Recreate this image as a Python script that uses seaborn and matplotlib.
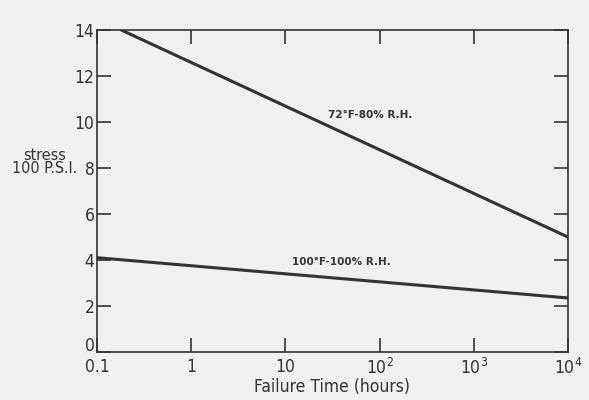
import pandas as pd
import seaborn as sns
import matplotlib.pyplot as plt
import matplotlib.transforms as mtransforms
from matplotlib.ticker import FixedLocator, NullLocator

sns.set_style("ticks")
plt.rcParams['font.family'] = ['DejaVu Sans']
plt.rcParams['font.stretch'] = 'condensed'

# Values (stress in 100 psi vs failure time in hours)
hours_72 = [0.18, 1e4]
stress_72 = [14.0, 5.0]
hours_100 = [0.1, 1e4]
stress_100 = [4.1, 2.35]

x_ticks = [0.1, 1, 10, 100, 1000, 10000]
x_tick_labels = ['0.1', '1', '10', '$10^2$', '$10^3$', '$10^4$']
y_ticks = [0, 2, 4, 6, 8, 10, 12, 14]

data = pd.concat([
    pd.DataFrame({'hours': hours_72, 'stress': stress_72, 'cond': "72°F-80% R.H."}),
    pd.DataFrame({'hours': hours_100, 'stress': stress_100, 'cond': "100°F-100% R.H."}),
])

ink = '#333333'
bg = '#f0f0f0'

fig = plt.figure(figsize=(5.89, 4), dpi=100, facecolor=bg)
ax = fig.add_axes([0.165, 0.12, 0.799, 0.805])
ax.set_facecolor(bg)

sns.lineplot(data=data, x='hours', y='stress', hue='cond',
             palette=[ink, ink], linewidth=2.2, legend=False, ax=ax)

ax.set_xscale('log')
ax.set_xlim(0.1, 1e4)
ax.set_ylim(0, 14)
ax.xaxis.set_major_locator(FixedLocator(x_ticks))
ax.xaxis.set_minor_locator(NullLocator())
ax.set_xticklabels(x_tick_labels)
ax.set_yticks(y_ticks)

for s in ax.spines.values():
    s.set_color(ink)
    s.set_linewidth(1.2)

ax.tick_params(direction='in', length=10, width=1.2, color=ink,
               labelsize=12.5, labelcolor=ink, top=True, right=True)
ax.tick_params(axis='x', pad=4)
ax.tick_params(axis='y', pad=2)

# the "0" on the y axis sits a little above the corner, as in the original
zero_lbl = ax.get_yticklabels()[0]
zero_lbl.set_transform(zero_lbl.get_transform() +
                       mtransforms.ScaledTranslation(0, 8 / 100, fig.dpi_scale_trans))

ax.set_xlabel('Failure Time (hours)', fontsize=12.5, color=ink, labelpad=0)
ax.set_ylabel('')
ax.text(-0.112, 0.59, 'stress\n100 P.S.I.', transform=ax.transAxes,
        ha='center', va='center', fontsize=11.5, color=ink, linespacing=0.85)

ax.text(80, 10.3, "72°F-80% R.H.", ha='center', va='center',
        fontsize=7.5, fontweight='bold', fontstretch='normal', color=ink)
ax.text(39, 3.9, "100°F-100% R.H.", ha='center', va='center',
        fontsize=7.5, fontweight='bold', fontstretch='normal', color=ink)

fig.savefig('out.png', dpi=100, facecolor=bg)
